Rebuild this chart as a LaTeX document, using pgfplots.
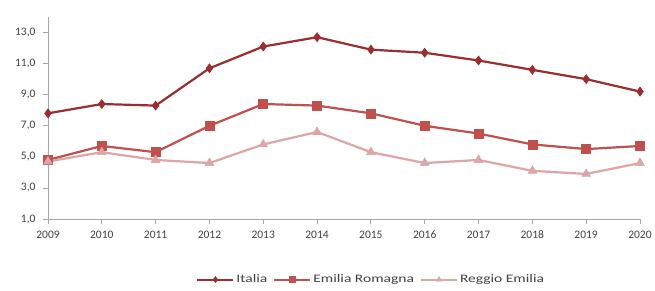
\documentclass[border=0pt]{standalone}
\usepackage{pgfplots}
\pgfplotsset{compat=1.18}
\usepackage{fontspec}
\setmainfont{Carlito}
\newfontfamily\legfont[FakeStretch=1.35]{Carlito}
\definecolor{cit}{HTML}{9B2D30}
\definecolor{cer}{HTML}{C0504D}
\definecolor{cre}{HTML}{DDA5A5}
\definecolor{axg}{HTML}{A6A6A6}
\definecolor{txt}{HTML}{404040}
\begin{document}
\begin{tikzpicture}[x=1pt,y=1pt]
\path[use as bounding box] (-48,-71) rectangle (607,219);
\begin{axis}[
  at={(0,0)}, anchor=origin,
  scale only axis, width=592pt, height=202pt,
  xmin=2009, xmax=2020, ymin=1, ymax=14,
  xtick={2009,...,2020}, ytick={1,3,...,13},
  axis x line*=bottom, axis y line*=left,
  axis line style={axg, line width=0.8pt, -},
  tick style={axg, line width=0.8pt},
  major tick length=5pt,
  tick align=outside,
  xtick pos=bottom, ytick pos=left,
  ticklabel style={font=\fontsize{11.5}{13}\selectfont, text=txt},
  xticklabel={\pgfmathprintnumber[1000 sep={}]{\tick}},
  x tick label style={yshift=-3pt},
  y tick label style={xshift=-4pt, /pgf/number format/.cd, fixed, fixed zerofill, precision=1, use comma},
  /pgf/number format/assume math mode=true,
  legend style={draw=none, at={(0.546,-0.30)}, anchor=center, font=\legfont\fontsize{11.5}{13}\selectfont, text=txt,
    /tikz/every even column/.append style={column sep=4pt}},
  legend columns=3,
  legend image code/.code={\draw[#1, line width=2pt] (0pt,0pt) -- (36pt,0pt); \draw[#1, mark size=3pt, mark repeat=1] plot coordinates {(18pt,0pt)};},
]
\addplot[cit, line width=2.2pt, mark=diamond*, mark size=4.5pt, mark options={solid, line width=0.6pt}] coordinates {
(2009,7.8) (2010,8.4) (2011,8.3) (2012,10.7) (2013,12.1) (2014,12.7) (2015,11.9) (2016,11.7) (2017,11.2) (2018,10.6) (2019,10.0) (2020,9.2)};
\addplot[cer, line width=2.2pt, mark=square*, mark size=4.5pt, mark options={solid, line width=0.6pt}] coordinates {
(2009,4.8) (2010,5.7) (2011,5.3) (2012,7.0) (2013,8.4) (2014,8.3) (2015,7.8) (2016,7.0) (2017,6.5) (2018,5.8) (2019,5.5) (2020,5.7)};
\addplot[cre, line width=2.2pt, mark=triangle*, mark size=5pt, mark options={solid, line width=0.6pt}] coordinates {
(2009,4.7) (2010,5.3) (2011,4.8) (2012,4.6) (2013,5.8) (2014,6.6) (2015,5.3) (2016,4.6) (2017,4.8) (2018,4.1) (2019,3.9) (2020,4.6)};
\legend{Italia, Emilia Romagna, Reggio Emilia}
\end{axis}
\end{tikzpicture}
\end{document}
